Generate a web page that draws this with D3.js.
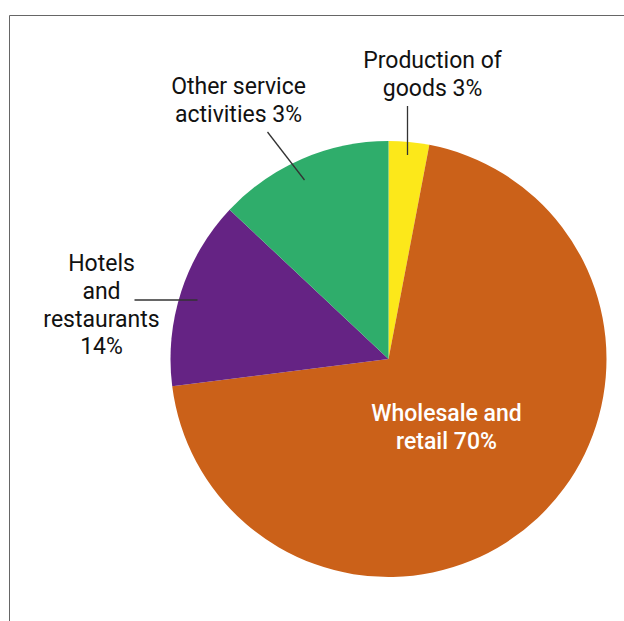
<!DOCTYPE html>
<html>
<head>
<meta charset="utf-8">
<script src="https://cdn.jsdelivr.net/npm/d3@7"></script>
<style>
  body { margin: 0; background: #fff; }
  svg text { font-family: Roboto, "Noto Sans", sans-serif; }
</style>
</head>
<body>
<svg width="624" height="621"></svg>
<script>
// sectors, clockwise from 12 o'clock
const sectors = ['Production of goods', 'Wholesale and retail', 'Hotels and restaurants', 'Other service activities'];
const shares = [3, 70, 14, 13];
const colours = ['#fce81a', '#cb6119', '#652384', '#2fad6b'];
// label lines as printed on the chart
const labelLines = [
    ['Production of', 'goods 3%'],
    ['Wholesale and', 'retail 70%'],
    ['Hotels', 'and', 'restaurants', '14%'],
    ['Other service', 'activities 3%']
];

function main(){
    var svg = d3.select('svg'),
        cx = 388.5, cy = 359,
        radius = 218;

    // frame (top + left edge only)
    svg.append('path')
        .attr('d', 'M9.5,621 L9.5,15.5 L624,15.5')
        .attr('fill', 'none')
        .attr('stroke', '#666')
        .attr('stroke-width', 1);

    var data = sectors.map((s, i) => ({name: s, value: shares[i], colour: colours[i], lines: labelLines[i]}));

    var pie = d3.pie().value(d => d.value).sort(null);
    var arc = d3.arc().innerRadius(0).outerRadius(radius);

    var g = svg.append('g')
        .attr('transform', 'translate(' + cx + ',' + cy + ')');

    var arcs = pie(data);

    g.selectAll('.slice')
        .data(arcs)
        .enter().append('path')
        .attr('class', 'slice')
        .attr('d', arc)
        .attr('fill', d => d.data.colour);

    // label positions relative to centre (x centre, baseline of first line)
    var lineH = 27.8;
    var labelPos = [
        {x: 44, y: -291, fill: '#111', weight: 400},
        {x: 58, y: 62, fill: '#fff', weight: 500},
        {x: -287, y: -88, fill: '#111', weight: 400},
        {x: -150, y: -265, fill: '#111', weight: 400}
    ];
    // leader lines [x1,y1,x2,y2] relative to centre
    var leaders = [
        [19, -253, 19, -204],
        null,
        [-254, -59, -191, -59],
        [-121, -227, -84, -179]
    ];

    arcs.forEach(function(d, i){
        var p = labelPos[i];
        var t = g.append('text')
            .attr('text-anchor', 'middle')
            .attr('font-size', 23)
            .attr('font-weight', p.weight)
            .attr('fill', p.fill);
        d.data.lines.forEach(function(l, j){
            t.append('tspan')
                .attr('x', p.x)
                .attr('y', p.y + j * lineH)
                .text(l);
        });
        if (leaders[i]) {
            g.append('line')
                .attr('x1', leaders[i][0]).attr('y1', leaders[i][1])
                .attr('x2', leaders[i][2]).attr('y2', leaders[i][3])
                .attr('stroke', '#333')
                .attr('stroke-width', 1.3);
        }
    });
}
main();
</script>
</body>
</html>
